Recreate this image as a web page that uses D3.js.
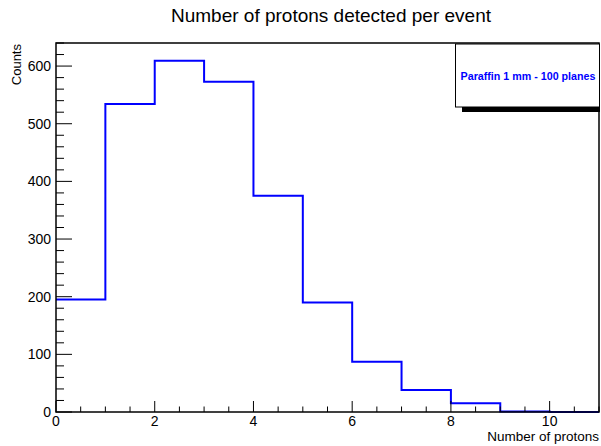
<!DOCTYPE html>
<html>
<head>
<meta charset="utf-8">
<script src="https://cdn.jsdelivr.net/npm/d3@7"></script>
<style>
  body { margin: 0; background: #fff; }
  text { font-family: "Liberation Sans", Arial, sans-serif; }
</style>
</head>
<body>
<div id="chart"></div>
<script>
// histogram of protons per event
var binEdges = [0, 1, 2, 3, 4, 5, 6, 7, 8, 9, 10, 11];
var counts = [195, 534, 609, 573, 375, 190, 87, 38, 15, 1, 0];
var xTicks = [0, 2, 4, 6, 8, 10];
var yTicks = [0, 100, 200, 300, 400, 500, 600];

var width = 601;
var height = 446;
var margin = {top: 43, right: 2, bottom: 34, left: 56};

var svg = d3.select('#chart').append('svg')
    .attr('width', width)
    .attr('height', height);

var x = d3.scaleLinear().domain([0, 11]).range([margin.left, width - margin.right]);
var y = d3.scaleLinear().domain([0, 640]).range([height - margin.bottom, margin.top]);

// title
svg.append('text')
    .attr('x', 331)
    .attr('y', 22)
    .attr('text-anchor', 'middle')
    .style('font-size', '19px')
    .text('Number of protons detected per event');

// histogram outline
var pts = [];
counts.forEach(function(c, i) {
    pts.push([binEdges[i], c]);
    pts.push([binEdges[i + 1], c]);
});
pts.push([binEdges[binEdges.length - 1], 0]);

svg.append('path')
    .datum(pts)
    .attr('fill', 'none')
    .attr('stroke', '#0000ff')
    .attr('stroke-width', 2)
    .attr('d', d3.line().x(function(d) { return x(d[0]); }).y(function(d) { return y(d[1]); }));

// frame
svg.append('rect')
    .attr('x', margin.left)
    .attr('y', margin.top)
    .attr('width', width - margin.right - margin.left)
    .attr('height', height - margin.bottom - margin.top)
    .attr('fill', 'none')
    .attr('stroke', '#000')
    .attr('stroke-width', 1.5);

// y axis ticks
var yMinor = d3.range(0, 641, 20);
svg.append('g').selectAll('line').data(yMinor).enter().append('line')
    .attr('x1', margin.left)
    .attr('x2', function(d) { return margin.left + (d % 100 === 0 ? 16 : 8); })
    .attr('y1', function(d) { return y(d); })
    .attr('y2', function(d) { return y(d); })
    .attr('stroke', '#000');

svg.append('g').selectAll('text').data(yTicks).enter().append('text')
    .attr('x', 51)
    .attr('y', function(d) { return y(d) + 5; })
    .attr('text-anchor', 'end')
    .style('font-size', '14px')
    .text(function(d) { return d; });

// x axis ticks
var xMinor = d3.range(0, 11.01, 0.5);
svg.append('g').selectAll('line').data(xMinor).enter().append('line')
    .attr('x1', function(d) { return x(d); })
    .attr('x2', function(d) { return x(d); })
    .attr('y1', y(0))
    .attr('y2', function(d) { return y(0) - (d % 2 === 0 ? 11 : 5.5); })
    .attr('stroke', '#000');

svg.append('g').selectAll('text').data(xTicks).enter().append('text')
    .attr('x', function(d) { return x(d); })
    .attr('y', 426)
    .attr('text-anchor', 'middle')
    .style('font-size', '14px')
    .text(function(d) { return d; });

// axis titles
svg.append('text')
    .attr('x', 599)
    .attr('y', 441)
    .attr('text-anchor', 'end')
    .style('font-size', '13.5px')
    .text('Number of protons');

svg.append('text')
    .attr('transform', 'translate(21,44) rotate(-90)')
    .attr('text-anchor', 'end')
    .style('font-size', '13px')
    .text('Counts');

// legend box with shadow
svg.append('rect')
    .attr('x', 462)
    .attr('y', 107)
    .attr('width', 138)
    .attr('height', 5)
    .attr('fill', '#000');

svg.append('rect')
    .attr('x', 455.5)
    .attr('y', 44)
    .attr('width', 144)
    .attr('height', 63)
    .attr('fill', '#fff')
    .attr('stroke', '#000')
    .attr('stroke-width', 1);

svg.append('text')
    .attr('x', 528)
    .attr('y', 79.5)
    .attr('text-anchor', 'middle')
    .attr('fill', '#0000ff')
    .style('font-size', '10.7px')
    .style('font-weight', 'bold')
    .text('Paraffin 1 mm - 100 planes');
</script>
</body>
</html>
